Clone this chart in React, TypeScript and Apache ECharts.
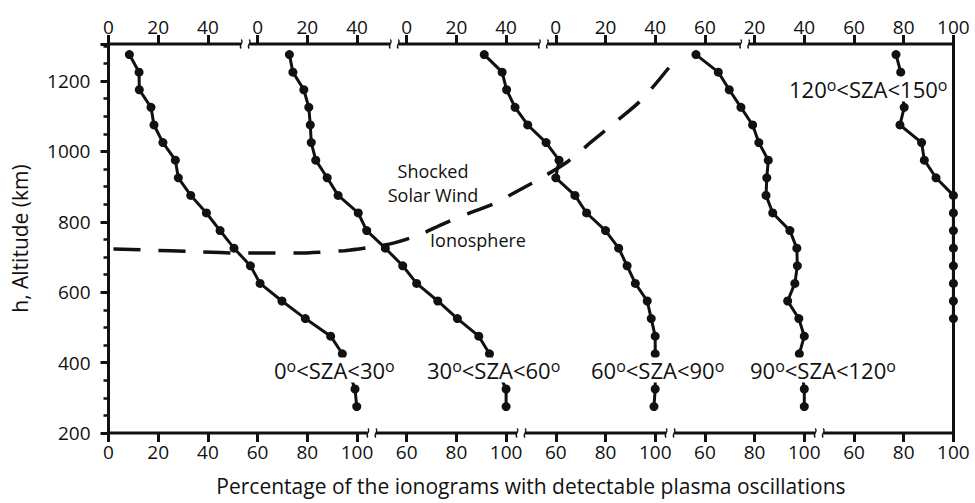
import React, { useEffect, useRef } from "react";
import * as echarts from "echarts";

// ---------------- data ----------------
// altitude (km) of the points of the four dayside / terminator SZA bins
const altitudeKm = [1275, 1225, 1175, 1125, 1075, 1025, 975, 925, 875, 825, 775, 725, 675, 625, 575, 525, 475, 425, 325, 275];
// altitude (km) of the points of the nightside SZA bin
const altitudeKmNight = [1275, 1225, 1175, 1125, 1075, 1025, 975, 925, 875, 825, 775, 725, 675, 625, 575, 525];

// percentage of ionograms with detectable plasma oscillations
const sza0to30 = [8.4, 12.3, 12.4, 17.1, 18.3, 21.9, 26.9, 28.1, 33.1, 39.4, 44.9, 50.5, 57.1, 61.0, 69.8, 79.2, 89.4, 94.1, 99.2, 99.9];
const sza30to60 = [12.8, 14.2, 18.6, 20.6, 21.2, 21.6, 23.4, 28.0, 32.4, 40.5, 43.9, 51.4, 58.4, 64.0, 72.5, 80.4, 89.0, 93.3, 100, 100];
const sza60to90 = [31.2, 38.4, 40.2, 43.6, 48.7, 56.1, 61.3, 60.0, 67.7, 72.4, 80.0, 85.3, 88.7, 92.0, 96.8, 98.4, 100, 100, 100, 99.5];
const sza90to120 = [56.4, 65.4, 69.8, 74.5, 79.2, 81.7, 85.5, 84.9, 84.6, 87.3, 94.2, 97.0, 97.2, 96.2, 93.3, 97.8, 100, 98.0, 100, 100];
const sza120to150 = [76.9, 78.8, 79.2, 80.2, 78.5, 87.2, 88.3, 93.0, 100, 100, 100, 100, 100, 100, 100, 100];

const szaBins = [[0, 30], [30, 60], [60, 90], [90, 120], [120, 150]];

// ionosphere / shocked solar wind boundary (shared horizontal scale of the whole figure, 0..340)
const boundaryX = [2, 15, 35, 55, 75, 95, 105, 115, 125, 135, 145, 155, 165, 175, 185, 195, 205, 215, 228];
const boundaryH = [723, 720, 715, 711, 711, 718, 727, 740, 763, 795, 824, 851, 889, 928, 972, 1031, 1089, 1150, 1260];

// tick labels
const altitudeTicks = [200, 400, 600, 800, 1000, 1200];
const bottomTickLabels = [[0, 20, 40, 60, 80, 100], [60, 80, 100], [60, 80, 100], [60, 80, 100], [60, 80, 100]];
const topTickLabels = [[0, 20, 40], [0, 20, 40], [0, 20, 40], [0, 20, 40, 60], [20, 40, 60, 80, 100]];

// visible stretch of each panel's axis line (panel units), between the axis breaks
const bottomSpans = [[0, 106], [46, 106], [46, 106], [46, 106], [46, 100]];
const topSpans = [[0, 55], [-5, 55], [-5, 55], [-5, 76], [16, 100]];

const xTitle = "Percentage of the ionograms with detectable plasma oscillations";
const yTitle = "h, Altitude (km)";
const annShocked = "Shocked\nSolar Wind";
const annIono = "Ionosphere";

const FONT = '"Open Sans", "Noto Sans", sans-serif';
const INK = "#111";
const H_MIN = 200;
const H_MAX = 1305;
const PANEL_SHIFT = 60;

export default function App() {
  const ref = useRef<HTMLDivElement>(null);

  useEffect(() => {
    const el = ref.current!;
    const chart = echarts.init(el, undefined, { renderer: "svg" });

    const plotLeft = 108.5;
    const unit = 2.485;
    const top = 44;
    const plotH = 389;

    const grids: any[] = [];
    for (let i = 0; i < 5; i++) {
      grids.push({ left: plotLeft + i * PANEL_SHIFT * unit, top, width: 100 * unit, height: plotH });
    }
    grids.push({ left: plotLeft, top, width: 340 * unit, height: plotH });

    const xAxes: any[] = [];
    for (let i = 0; i < 5; i++) {
      for (const pos of ["bottom", "top"]) {
        const labels = pos === "bottom" ? bottomTickLabels[i] : topTickLabels[i];
        xAxes.push({
          type: "value",
          gridIndex: i,
          position: pos,
          min: 0,
          max: 100,
          interval: 20,
          axisLine: { show: false, onZero: false },
          splitLine: { show: false },
          axisTick: { show: true, length: 9, lineStyle: { color: INK, width: 3 } },
          axisLabel: {
            show: true,
            margin: pos === "bottom" ? 9 : 8,
            fontSize: 19,
            color: INK,
            fontFamily: FONT,
            formatter: (v: number) => (labels.includes(v) ? String(v) : ""),
          },
        });
      }
    }
    xAxes.push({
      type: "value",
      gridIndex: 5,
      position: "bottom",
      min: 0,
      max: 340,
      axisLine: { show: false, onZero: false },
      axisTick: { show: false },
      axisLabel: { show: false },
      splitLine: { show: false },
      name: xTitle,
      nameLocation: "middle",
      nameGap: 42,
      nameTextStyle: { fontSize: 21, color: INK, fontFamily: FONT },
    });

    const yAxes: any[] = [
      {
        type: "value",
        gridIndex: 0,
        position: "left",
        min: H_MIN,
        max: H_MAX,
        interval: 200,
        axisLine: { show: true, onZero: false, lineStyle: { color: INK, width: 3 } },
        axisTick: { show: true, length: 8, lineStyle: { color: INK, width: 3 } },
        axisLabel: {
          fontSize: 19,
          color: INK,
          fontFamily: FONT,
          margin: 18,
          formatter: (v: number) => (altitudeTicks.includes(v) ? String(v) : ""),
        },
        splitLine: { show: false },
        name: yTitle,
        nameLocation: "middle",
        nameGap: 78,
        nameTextStyle: { fontSize: 21, color: INK, fontFamily: FONT },
      },
      {
        type: "value",
        gridIndex: 0,
        position: "left",
        min: H_MIN,
        max: H_MAX,
        interval: 50,
        axisLine: { show: false, onZero: false },
        axisTick: { show: true, length: 5, lineStyle: { color: INK, width: 2.5 } },
        axisLabel: { show: false },
        splitLine: { show: false },
      },
      { type: "value", gridIndex: 1, min: H_MIN, max: H_MAX, show: false },
      { type: "value", gridIndex: 2, min: H_MIN, max: H_MAX, show: false },
      { type: "value", gridIndex: 3, min: H_MIN, max: H_MAX, show: false },
      {
        type: "value",
        gridIndex: 4,
        position: "right",
        min: H_MIN,
        max: H_MAX,
        axisLine: { show: true, onZero: false, lineStyle: { color: INK, width: 3 } },
        axisTick: { show: false },
        axisLabel: { show: false },
        splitLine: { show: false },
      },
      { type: "value", gridIndex: 5, min: H_MIN, max: H_MAX, show: false },
    ];
    const yIdx = [0, 2, 3, 4, 5, 6];

    const panelValues = [sza0to30, sza30to60, sza60to90, sza90to120, sza120to150];
    const panelAlts = [altitudeKm, altitudeKm, altitudeKm, altitudeKm, altitudeKmNight];

    const series: any[] = panelValues.map((vals, i) => ({
      type: "line",
      name: `${szaBins[i][0]}-${szaBins[i][1]}`,
      xAxisIndex: 2 * i,
      yAxisIndex: yIdx[i],
      data: vals.map((v, k) => [v, panelAlts[i][k]]),
      symbol: "circle",
      symbolSize: 9,
      lineStyle: { color: INK, width: 3 },
      itemStyle: { color: INK },
      clip: false,
      z: 3,
    }));

    const renderAxisLine = (_params: any, api: any) => {
      const x0 = api.value(0);
      const x1 = api.value(1);
      const y = api.value(2);
      const lb = api.value(3);
      const rb = api.value(4);
      const p0 = api.coord([x0, y]);
      const p1 = api.coord([x1, y]);
      const gap = 4;
      const xa = lb ? p0[0] + gap : p0[0] - 1.5;
      const xb = rb ? p1[0] - gap : p1[0] + 1.5;
      const yy = p0[1];
      const children: any[] = [
        { type: "line", shape: { x1: xa, y1: yy, x2: xb, y2: yy }, style: { stroke: INK, lineWidth: 3 } },
      ];
      const squig = (x: number) => ({
        type: "bezierCurve",
        shape: { x1: x, y1: yy - 4.5, x2: x, y2: yy + 4.5, cpx1: x + 3.5, cpy1: yy - 1.5, cpx2: x - 3.5, cpy2: yy + 1.5 },
        style: { stroke: INK, lineWidth: 1.2, fill: null },
      });
      if (lb) children.push(squig(xa));
      if (rb) children.push(squig(xb));
      return { type: "group", children };
    };

    for (let i = 0; i < 5; i++) {
      series.push({
        type: "custom",
        xAxisIndex: 2 * i,
        yAxisIndex: yIdx[i],
        clip: false,
        silent: true,
        z: 4,
        encode: { x: [0, 1], y: 2 },
        data: [
          [bottomSpans[i][0], bottomSpans[i][1], H_MIN, i > 0 ? 1 : 0, i < 4 ? 1 : 0],
          [topSpans[i][0], topSpans[i][1], H_MAX, i > 0 ? 1 : 0, i < 4 ? 1 : 0],
        ],
        renderItem: renderAxisLine,
      });
    }

    series.push({
      type: "line",
      name: "boundary",
      xAxisIndex: 10,
      yAxisIndex: 6,
      data: boundaryX.map((x, k) => [x, boundaryH[k]]),
      smooth: 0.3,
      symbol: "none",
      lineStyle: { color: INK, width: 3.5, type: [27, 18] },
      clip: false,
      z: 2,
    });

    const labelPos = [
      [274, 370],
      [427, 370],
      [591, 370],
      [750, 370],
      [789, 89],
    ];
    const rich = {
      n: { fontSize: 22, lineHeight: 25, fontFamily: FONT, fill: INK },
      s: { fontSize: 16, lineHeight: 16, fontFamily: FONT, fill: INK, verticalAlign: "top" },
    };
    const graphics: any[] = szaBins.map((b, i) => ({
      type: "text",
      x: labelPos[i][0],
      y: labelPos[i][1],
      z: 100,
      style: {
        text: `{n|${b[0]}}{s|o}{n|<SZA<${b[1]}}{s|o}`,
        rich,
        align: "left",
        verticalAlign: "middle",
        backgroundColor: "#fff",
        fill: INK,
      },
    }));
    graphics.push({
      type: "text",
      x: 433,
      y: 183,
      z: 100,
      style: {
        text: annShocked,
        align: "center",
        verticalAlign: "middle",
        fontSize: 18,
        lineHeight: 24,
        fontFamily: FONT,
        fill: INK,
      },
    });
    graphics.push({
      type: "text",
      x: 478,
      y: 240,
      z: 100,
      style: {
        text: annIono,
        align: "center",
        verticalAlign: "middle",
        fontSize: 18,
        fontFamily: FONT,
        fill: INK,
      },
    });

    chart.setOption({
      animation: false,
      backgroundColor: "#fff",
      textStyle: { fontFamily: FONT },
      grid: grids,
      xAxis: xAxes,
      yAxis: yAxes,
      series,
      graphic: graphics,
    });

    return () => chart.dispose();
  }, []);

  return <div ref={ref} style={{ position: "fixed", left: 0, top: 0, width: 975, height: 503 }} />;
}
